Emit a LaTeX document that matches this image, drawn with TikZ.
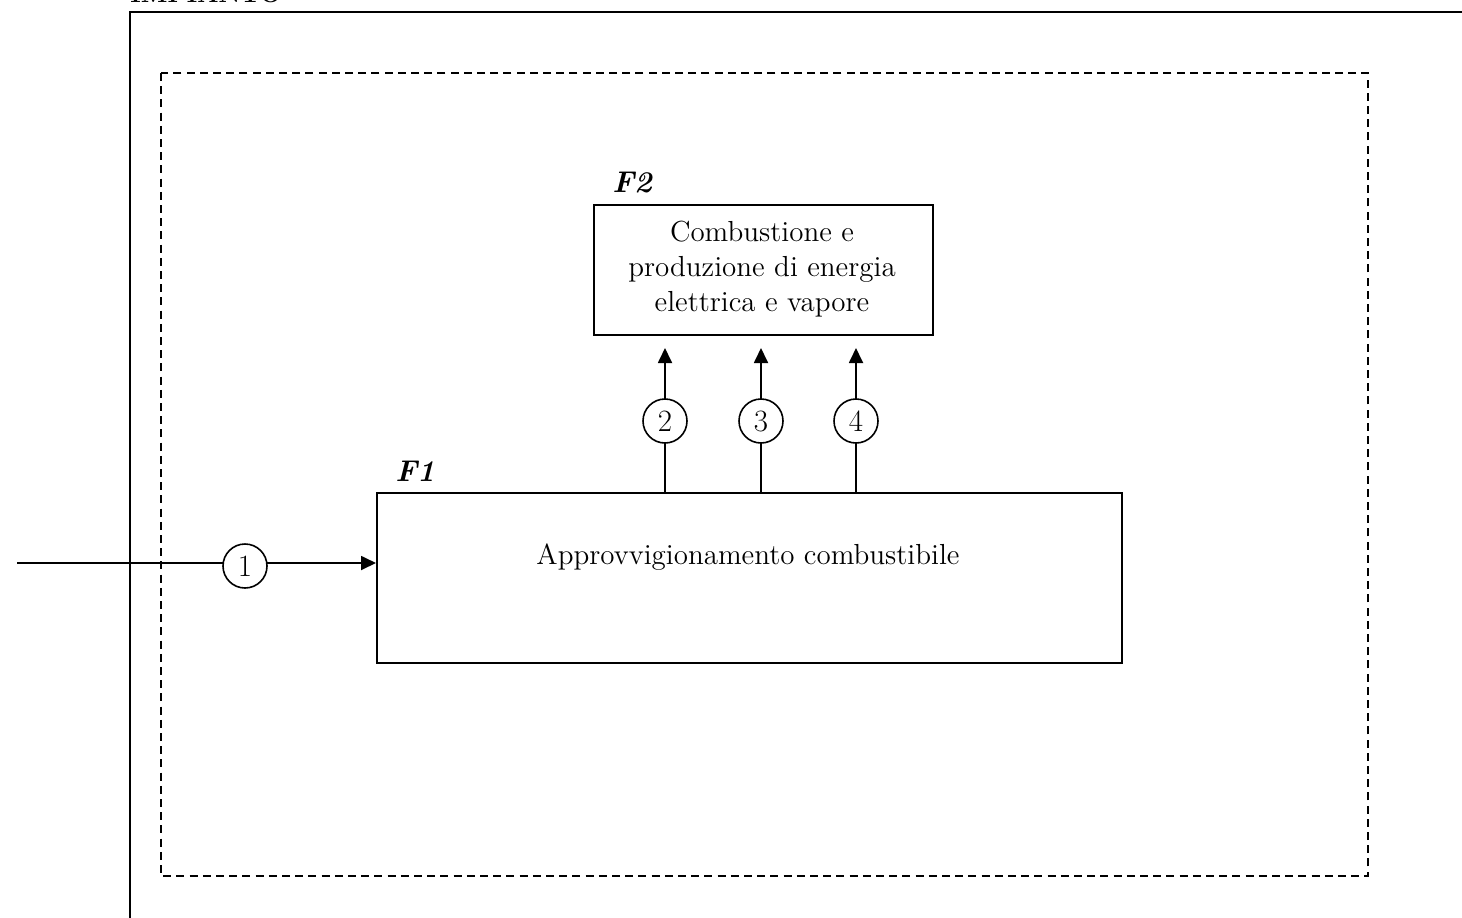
\documentclass[tikz,border=0pt]{standalone}
\usetikzlibrary{arrows.meta}
\begin{document}
\begin{tikzpicture}[x=0.5pt,y=-0.5pt,
  every node/.style={font=\fontsize{14.5}{17.5}\selectfont},
  solidline/.style={line width=1pt},
  dashline/.style={line width=1pt,dash pattern=on 4pt off 2.6pt},
  funcbox/.style={draw,line width=0.9pt,anchor=north west,inner sep=0pt},
  numcirc/.style={draw,circle,line width=0.8pt,fill=white,minimum size=22pt,inner sep=0pt,font=\fontsize{15.5}{18}\selectfont},
  flow/.style={line width=0.9pt,-{Triangle[length=7.5pt,width=7pt]}},
  tag/.style={font=\fontsize{15}{18}\selectfont\bfseries\itshape,anchor=base west,inner sep=0pt}]
\useasboundingbox (0,0) rectangle (1462,917);
\clip (0,0) rectangle (1462,917);
% plant boundary (only top and left sides fall inside the frame)
\draw[solidline] (130,940) -- (130,12) -- (1480,12);
\node[font=\fontsize{12.5}{15}\selectfont\bfseries,anchor=base west,inner sep=0pt] (plant) at (130,2) {IMPIANTO};
% system boundary
\draw[dashline] (161,73) rectangle (1368,876);
% functional blocks
\node[funcbox,minimum width=372.5pt,minimum height=85pt] (f1) at (376,492) {};
\node (f1txt) at (748,557) {Approvvigionamento combustibile};
\node[tag] (f1tag) at (395,481) {F1};
\node[funcbox,minimum width=169.5pt,minimum height=65pt] (f2) at (593,204) {};
\node[align=center] (f2txt) at (762,269) {Combustione e\\produzione di energia\\elettrica e vapore};
\node[tag] (f2tag) at (612,192) {F2};
% flows
\coordinate (in) at (17,563);
\draw[flow] (in) -- (f1.west |- in);
\node[numcirc] (c1) at (245,566) {1};
\foreach \x/\n in {665/2,761/3,856/4}{
  \coordinate (s\n) at (\x,492);
  \coordinate (e\n) at (\x,348);
  \draw[flow] (s\n) -- (e\n);
  \node[numcirc] (c\n) at (\x,421) {\n};
}
\end{tikzpicture}
\end{document}
